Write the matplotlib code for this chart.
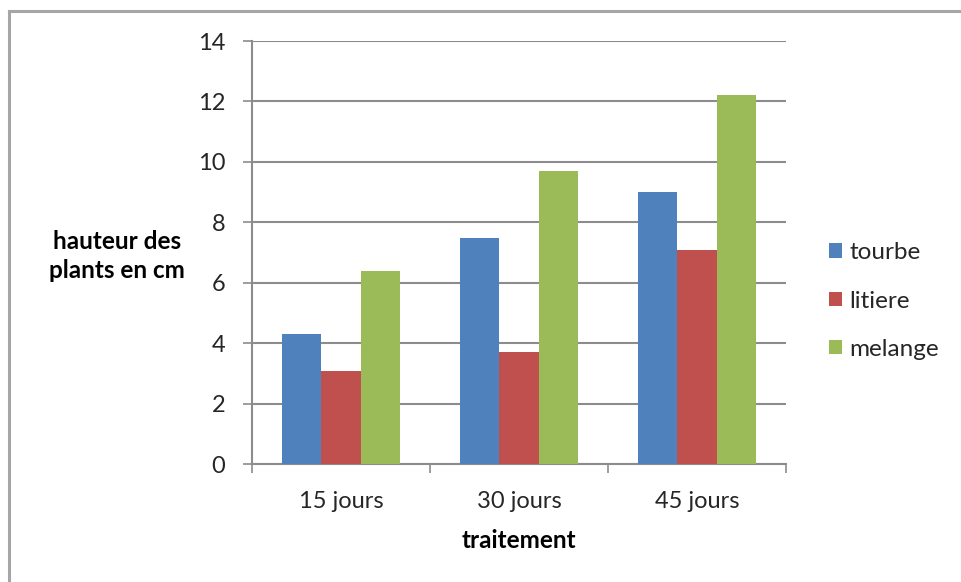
import matplotlib
matplotlib.use("Agg")
import matplotlib.pyplot as plt
from matplotlib.lines import Line2D
from matplotlib.patches import Patch
import numpy as np

# Plant height (cm) per substrate and treatment duration
categories = ["15 jours", "30 jours", "45 jours"]
series_names = ["tourbe", "litiere", "melange"]
tourbe = [4.3, 7.5, 9.0]
litiere = [3.1, 3.7, 7.1]
melange = [6.4, 9.7, 12.2]
y_ticks = [0, 2, 4, 6, 8, 10, 12, 14]

colors = ["#4F81BD", "#C0504D", "#9BBB59"]
grid_color = "#8C8C8C"
text_color = "#262626"

plt.rcParams["font.family"] = ["Lato", "DejaVu Sans"]

W, H = 961, 582
fig = plt.figure(figsize=(W / 100, H / 100), dpi=100)
fig.patch.set_facecolor("white")

# Plot area
left, right, top, bottom = 252, 786, 41, 464.3
ax = fig.add_axes([left / W, 1 - bottom / H, (right - left) / W, (bottom - top) / H])

x = np.arange(len(categories))
bar_w = 0.222
for i, (vals, col) in enumerate(zip([tourbe, litiere, melange], colors)):
    ax.bar(x + (i - 1) * bar_w, vals, width=bar_w, color=col, zorder=3,
           edgecolor="none", label=series_names[i])

ax.set_xlim(-0.5, len(categories) - 0.5)
ax.set_ylim(0, 14)
ax.set_yticks(y_ticks)
ax.set_yticklabels([str(v) for v in y_ticks], fontsize=17, color=text_color)
ax.yaxis.grid(True, color=grid_color, linewidth=1.5, zorder=0)
ax.tick_params(axis="y", length=6.7, width=1.2, color=grid_color, pad=12.5)

# Category labels centred, tick marks on category boundaries
ax.set_xticks(x)
ax.set_xticklabels(categories, fontsize=17, color=text_color)
ax.tick_params(axis="x", length=0, pad=19)
ax.set_xticks(np.arange(-0.5, len(categories), 1.0), minor=True)
ax.tick_params(axis="x", which="minor", length=6.5, width=1.2, color=grid_color)

for side in ["top", "right"]:
    ax.spines[side].set_visible(False)
for side in ["left", "bottom"]:
    ax.spines[side].set_color(grid_color)
    ax.spines[side].set_linewidth(1.5)

# Axis titles
fig.text(117 / W, 1 - 256 / H, "hauteur des\nplants en cm", ha="center", va="center",
         fontsize=17.5, fontweight="bold", color="black", linespacing=1.35)
fig.text(519 / W, 1 - 540 / H, "traitement", ha="center", va="center",
         fontsize=17.5, fontweight="bold", color="black")

# Legend
handles = [Patch(facecolor=c, edgecolor="none", label=n) for c, n in zip(colors, series_names)]
fig.legend(handles=handles, loc="center left", bbox_to_anchor=(829 / W, 1 - 301 / H),
           frameon=False, fontsize=17.5, handlelength=0.55, handleheight=0.55,
           handletextpad=0.3, labelspacing=1.12, borderpad=0, borderaxespad=0,
           labelcolor=text_color)

# Outer chart frame (top and left edges)
fig.add_artist(Line2D([9 / W, 1], [1 - 11 / H, 1 - 11 / H], transform=fig.transFigure,
                      color="#A6A6A6", linewidth=2.2))
fig.add_artist(Line2D([9 / W, 9 / W], [0, 1 - 11 / H], transform=fig.transFigure,
                      color="#A6A6A6", linewidth=2.2))

fig.savefig("out.png", dpi=100, facecolor="white")
